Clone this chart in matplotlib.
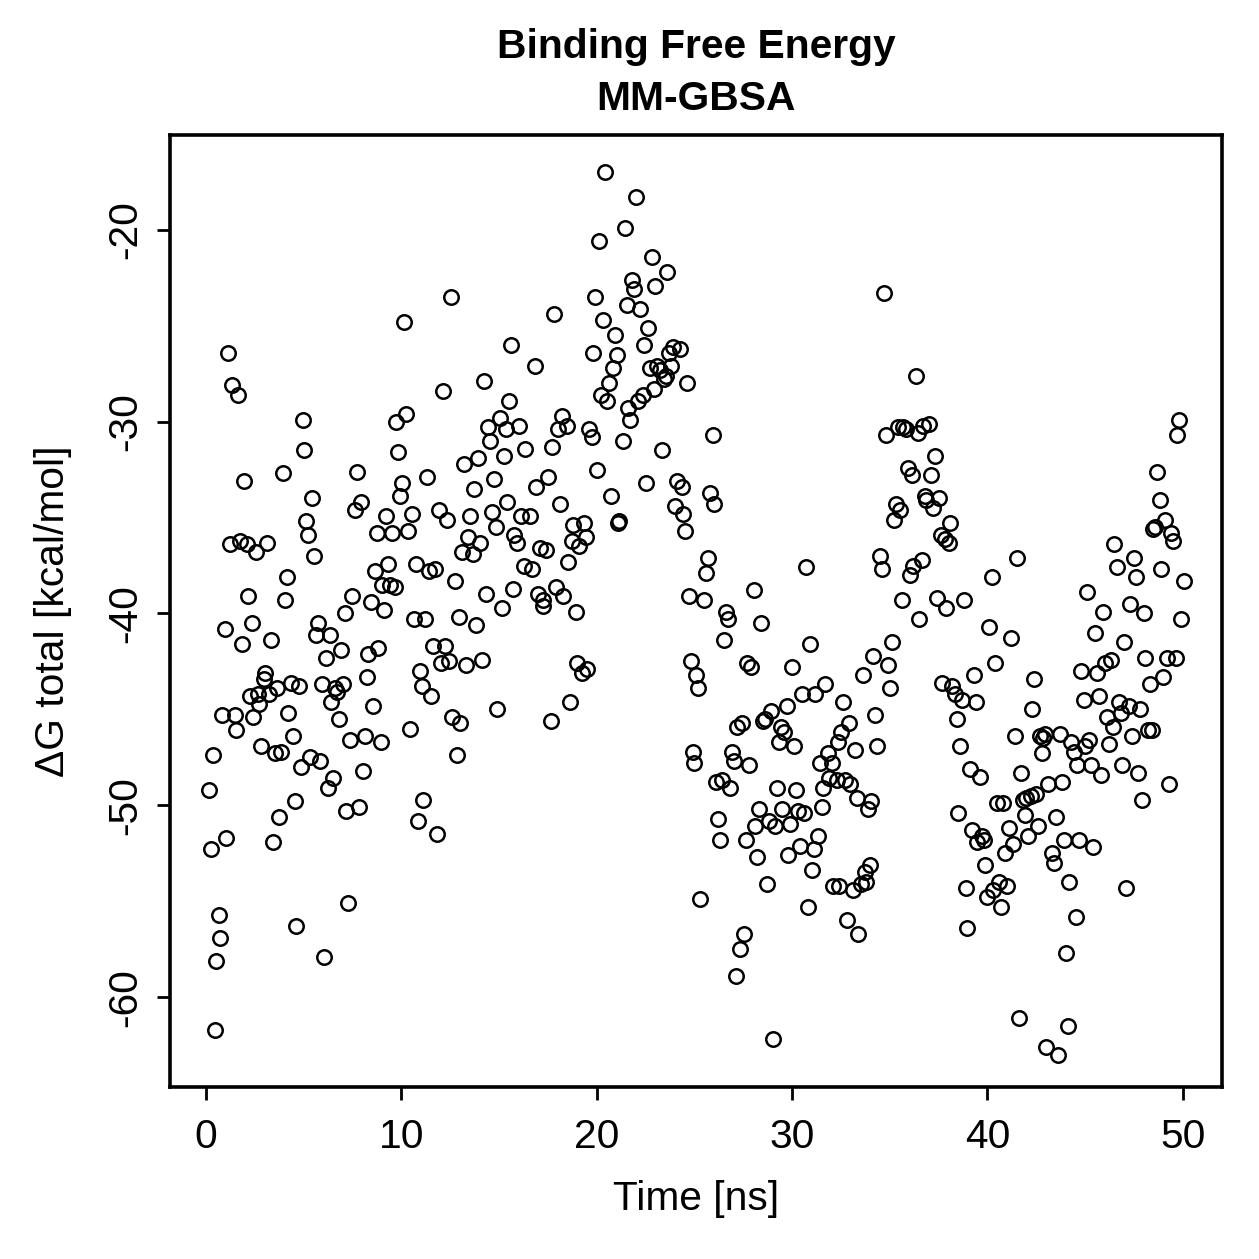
"""
Binding free energy (MM-GBSA) over simulation time, R base-graphics look.
"""

import matplotlib
matplotlib.use("Agg")
import matplotlib.pyplot as plt

plt.rcParams['font.family'] = ['Liberation Sans', 'DejaVu Sans']
plt.rcParams['axes.unicode_minus'] = False

# time [ns]
time_ns = [
    0.15, 0.24, 0.34, 0.45, 0.53, 0.65, 0.73, 0.82, 0.96, 1.04,
    1.14, 1.24, 1.33, 1.47, 1.54, 1.65, 1.74, 1.83, 1.94, 2.08,
    2.13, 2.25, 2.34, 2.42, 2.56, 2.68, 2.73, 2.83, 2.97, 3.03,
    3.14, 3.24, 3.33, 3.43, 3.55, 3.65, 3.74, 3.85, 3.94, 4.04,
    4.13, 4.21, 4.33, 4.44, 4.54, 4.61, 4.74, 4.85, 4.95, 5.03,
    5.13, 5.24, 5.32, 5.44, 5.53, 5.61, 5.73, 5.85, 5.94, 6.02,
    6.13, 6.23, 6.35, 6.41, 6.51, 6.59, 6.72, 6.82, 6.92, 7.03,
    7.10, 7.16, 7.27, 7.37, 7.46, 7.63, 7.74, 7.85, 7.93, 8.03,
    8.14, 8.22, 8.31, 8.44, 8.53, 8.63, 8.74, 8.82, 8.94, 9.02,
    9.13, 9.23, 9.33, 9.42, 9.52, 9.67, 9.72, 9.84, 9.91, 10.05,
    10.13, 10.24, 10.32, 10.44, 10.53, 10.63, 10.73, 10.83, 10.94, 11.05,
    11.12, 11.21, 11.33, 11.41, 11.53, 11.63, 11.72, 11.84, 11.94, 12.03,
    12.11, 12.23, 12.33, 12.44, 12.54, 12.60, 12.74, 12.85, 12.93, 13.03,
    13.12, 13.22, 13.32, 13.44, 13.53, 13.66, 13.73, 13.83, 13.92, 14.02,
    14.12, 14.23, 14.35, 14.43, 14.52, 14.64, 14.72, 14.83, 14.91, 15.03,
    15.13, 15.24, 15.34, 15.40, 15.52, 15.62, 15.73, 15.78, 15.92, 16.02,
    16.11, 16.29, 16.33, 16.58, 16.67, 16.82, 16.92, 17.01, 17.09, 17.23,
    17.26, 17.43, 17.52, 17.64, 17.72, 17.82, 17.91, 18.03, 18.12, 18.24,
    18.29, 18.46, 18.54, 18.63, 18.72, 18.80, 18.92, 19.00, 19.10, 19.23,
    19.34, 19.43, 19.53, 19.62, 19.74, 19.82, 19.94, 20.03, 20.11, 20.20,
    20.32, 20.43, 20.52, 20.64, 20.73, 20.85, 20.95, 21.03, 21.07, 21.14,
    21.33, 21.43, 21.53, 21.61, 21.70, 21.82, 21.92, 22.01, 22.12, 22.21,
    22.35, 22.42, 22.50, 22.62, 22.72, 22.82, 22.94, 22.99, 23.10, 23.23,
    23.32, 23.44, 23.54, 23.61, 23.70, 23.80, 23.92, 24.00, 24.12, 24.26,
    24.35, 24.43, 24.51, 24.60, 24.72, 24.84, 24.91, 24.97, 25.06, 25.19,
    25.28, 25.50, 25.62, 25.71, 25.81, 25.93, 26.01, 26.13, 26.20, 26.32,
    26.42, 26.51, 26.63, 26.71, 26.80, 26.93, 27.02, 27.12, 27.18, 27.33,
    27.42, 27.52, 27.62, 27.69, 27.82, 27.92, 28.03, 28.10, 28.21, 28.32,
    28.42, 28.49, 28.61, 28.73, 28.81, 28.92, 29.02, 29.12, 29.21, 29.33,
    29.43, 29.51, 29.60, 29.72, 29.80, 29.92, 30.01, 30.11, 30.21, 30.33,
    30.41, 30.50, 30.60, 30.74, 30.81, 30.91, 31.00, 31.12, 31.20, 31.32,
    31.42, 31.51, 31.61, 31.71, 31.82, 31.88, 32.02, 32.09, 32.28, 32.33,
    32.41, 32.53, 32.62, 32.70, 32.80, 32.92, 32.99, 33.11, 33.21, 33.33,
    33.40, 33.51, 33.61, 33.73, 33.81, 33.89, 33.98, 34.03, 34.12, 34.24,
    34.33, 34.52, 34.61, 34.71, 34.80, 34.92, 35.01, 35.11, 35.21, 35.31,
    35.41, 35.52, 35.62, 35.69, 35.82, 35.91, 36.03, 36.12, 36.20, 36.33,
    36.43, 36.51, 36.63, 36.72, 36.80, 36.88, 37.02, 37.10, 37.22, 37.32,
    37.43, 37.51, 37.60, 37.70, 37.82, 37.90, 38.02, 38.11, 38.21, 38.32,
    38.42, 38.49, 38.60, 38.71, 38.81, 38.91, 38.98, 39.10, 39.19, 39.32,
    39.41, 39.47, 39.63, 39.73, 39.83, 39.90, 39.98, 40.09, 40.21, 40.29,
    40.39, 40.47, 40.60, 40.72, 40.80, 40.89, 40.99, 41.11, 41.20, 41.32,
    41.39, 41.52, 41.61, 41.71, 41.80, 41.91, 42.00, 42.10, 42.22, 42.29,
    42.39, 42.51, 42.59, 42.68, 42.80, 42.85, 42.94, 43.02, 43.10, 43.31,
    43.40, 43.50, 43.59, 43.69, 43.81, 43.91, 44.01, 44.10, 44.20, 44.30,
    44.42, 44.51, 44.59, 44.69, 44.81, 44.92, 45.00, 45.10, 45.20, 45.32,
    45.41, 45.50, 45.61, 45.70, 45.82, 45.92, 46.01, 46.10, 46.21, 46.33,
    46.42, 46.50, 46.61, 46.71, 46.83, 46.91, 46.98, 47.10, 47.25, 47.32,
    47.41, 47.51, 47.59, 47.71, 47.81, 47.89, 48.00, 48.09, 48.22, 48.31,
    48.43, 48.48, 48.60, 48.70, 48.81, 48.89, 48.99, 49.11, 49.18, 49.30,
    49.42, 49.50, 49.63, 49.71, 49.81, 49.90, 50.04,
]

# dG total [kcal/mol], same order
dg_total = [
    -49.2, -52.3, -47.4, -61.7, -58.1, -55.7, -56.9, -45.3, -40.8, -51.7,
    -26.4, -36.4, -28.1, -45.3, -46.1, -28.6, -36.2, -41.6, -33.1, -36.4,
    -39.1, -44.3, -40.5, -45.4, -36.8, -44.2, -44.7, -46.9, -43.4, -43.1,
    -36.3, -44.2, -41.4, -51.9, -47.3, -43.9, -50.6, -47.2, -32.7, -39.3,
    -38.1, -45.2, -43.6, -46.4, -49.8, -56.3, -43.8, -48.0, -29.9, -31.5,
    -35.2, -35.9, -47.5, -34.0, -37.0, -41.1, -40.5, -47.7, -43.7, -57.9,
    -42.3, -49.1, -41.1, -44.6, -48.6, -43.9, -44.1, -45.5, -41.9, -43.7,
    -40.0, -50.3, -55.1, -46.6, -39.1, -34.6, -32.6, -50.1, -34.2, -48.2,
    -46.4, -43.3, -42.1, -39.4, -44.8, -37.8, -35.8, -41.8, -46.7, -38.5,
    -39.8, -34.9, -37.4, -38.5, -35.8, -38.6, -30.0, -31.6, -33.9, -33.2,
    -24.8, -29.6, -35.7, -46.0, -34.8, -40.3, -37.4, -50.8, -43.0, -43.8,
    -49.7, -40.3, -32.9, -37.8, -44.3, -41.7, -37.7, -51.5, -34.6, -42.6,
    -28.4, -41.7, -35.1, -42.5, -23.5, -45.4, -38.3, -47.4, -40.2, -45.7,
    -36.8, -32.2, -42.7, -36.0, -34.9, -36.9, -33.5, -40.6, -31.9, -36.3,
    -42.4, -27.9, -39.0, -30.3, -31.0, -34.7, -33.0, -35.5, -45.0, -29.8,
    -39.7, -31.8, -30.4, -34.2, -28.9, -26.0, -38.7, -35.9, -36.3, -30.2,
    -34.9, -37.5, -31.4, -34.9, -37.7, -27.1, -33.4, -39.0, -36.6, -39.6,
    -39.3, -36.7, -32.9, -45.6, -31.3, -24.4, -38.6, -30.4, -34.3, -29.7,
    -39.1, -30.2, -37.3, -44.6, -36.2, -35.4, -39.9, -42.6, -36.5, -43.1,
    -35.3, -36.0, -42.9, -30.4, -30.8, -26.4, -23.5, -32.5, -20.6, -28.6,
    -24.7, -17.0, -28.9, -28.0, -33.9, -27.2, -25.5, -26.5, -35.3, -35.2,
    -31.0, -19.9, -23.9, -29.3, -29.9, -22.6, -23.1, -18.3, -28.9, -24.1,
    -28.6, -26.0, -33.2, -25.1, -27.2, -21.4, -28.3, -22.9, -27.1, -27.3,
    -31.5, -27.8, -27.6, -22.2, -26.4, -27.1, -26.1, -34.4, -33.1, -26.2,
    -33.4, -34.8, -35.7, -28.0, -39.1, -42.5, -47.2, -47.8, -43.2, -43.9,
    -54.9, -39.3, -37.9, -37.1, -33.7, -30.7, -34.3, -48.8, -50.7, -51.8,
    -48.7, -41.4, -39.9, -40.3, -49.1, -47.2, -47.7, -58.9, -45.9, -57.5,
    -45.7, -56.7, -51.8, -42.6, -47.9, -42.8, -38.8, -51.1, -52.7, -50.2,
    -40.5, -45.6, -45.5, -54.1, -50.8, -45.1, -62.2, -51.1, -49.1, -46.7,
    -45.9, -50.2, -46.2, -44.8, -52.6, -51.0, -42.8, -46.9, -49.2, -50.3,
    -52.1, -44.2, -50.4, -37.6, -55.3, -41.6, -53.4, -52.3, -44.2, -51.6,
    -47.8, -50.1, -49.1, -43.7, -47.3, -48.6, -47.8, -54.2, -48.7, -46.7,
    -54.2, -46.2, -44.6, -48.7, -56.0, -45.7, -48.9, -54.4, -47.1, -49.6,
    -56.7, -54.1, -43.2, -53.5, -54.0, -50.2, -53.1, -49.8, -42.2, -45.3,
    -46.9, -37.0, -37.7, -23.3, -30.7, -42.7, -43.9, -41.5, -35.1, -34.3,
    -30.3, -34.6, -39.3, -30.3, -30.4, -32.4, -38.0, -32.8, -37.5, -27.6,
    -30.6, -40.3, -37.2, -30.2, -33.9, -34.1, -30.1, -32.8, -34.5, -31.8,
    -39.2, -34.0, -35.9, -43.6, -36.1, -39.7, -36.3, -35.3, -43.8, -44.2,
    -45.5, -50.4, -46.9, -44.5, -39.3, -54.3, -56.4, -48.1, -51.3, -43.2,
    -44.6, -51.9, -48.5, -51.6, -51.8, -53.1, -54.8, -40.7, -38.1, -54.4,
    -42.6, -49.9, -54.0, -55.3, -49.9, -52.5, -54.2, -51.2, -41.3, -52.0,
    -46.4, -37.1, -61.1, -48.3, -49.7, -50.5, -49.6, -51.6, -49.5, -45.0,
    -43.4, -49.4, -51.1, -46.4, -47.3, -46.5, -46.3, -62.6, -48.9, -52.5,
    -53.0, -50.6, -63.0, -46.3, -48.8, -51.8, -57.7, -61.5, -54.0, -46.7,
    -47.2, -55.8, -47.9, -51.8, -43.0, -44.5, -46.9, -38.9, -46.6, -47.9,
    -52.2, -41.0, -43.1, -44.3, -48.4, -39.9, -42.6, -45.4, -46.8, -42.4,
    -45.9, -36.4, -37.6, -44.6, -45.2, -47.9, -41.5, -54.3, -44.8, -39.5,
    -46.4, -37.1, -38.1, -48.3, -45.0, -49.7, -40.0, -42.3, -46.1, -43.7,
    -46.1, -35.6, -35.5, -32.6, -34.1, -37.7, -43.3, -35.1, -42.3, -48.9,
    -35.8, -36.2, -42.3, -30.7, -29.9, -40.3, -38.3,
]

x_ticks = [0, 10, 20, 30, 40, 50]
y_ticks = [-60, -50, -40, -30, -20]

DPI = 200
fig = plt.figure(figsize=(1259 / DPI, 1259 / DPI), dpi=DPI)
ax = fig.add_axes([0.135, 0.1366, 0.8355, 0.7562])

ax.plot(time_ns, dg_total, linestyle='none', marker='o', markersize=5.2,
        markerfacecolor='none', markeredgecolor='black', markeredgewidth=0.9)

ax.set_xlim(-1.84, 52.0)
ax.set_ylim(-64.69, -15.05)
ax.set_xticks(x_ticks)
ax.set_yticks(y_ticks)

for side in ax.spines.values():
    side.set_linewidth(1.3)

fs = 14.7
ax.tick_params(axis='both', direction='out', length=4.7, width=1.0,
               labelsize=fs, color='black')
ax.tick_params(axis='x', pad=6.5)
ax.tick_params(axis='y', pad=4.5, labelrotation=90)
for lab in ax.get_yticklabels():
    lab.set_verticalalignment('center')

ax.set_xlabel('Time [ns]', fontsize=fs)
ax.set_ylabel('ΔG total [kcal/mol]', fontsize=fs)
ax.xaxis.set_label_coords(0.5, -0.098)
ax.yaxis.set_label_coords(-0.093, 0.5)

ax.set_title('Binding Free Energy\nMM-GBSA', fontsize=fs, fontweight='bold',
             linespacing=1.45, pad=9)

fig.savefig('out.png', dpi=DPI)
